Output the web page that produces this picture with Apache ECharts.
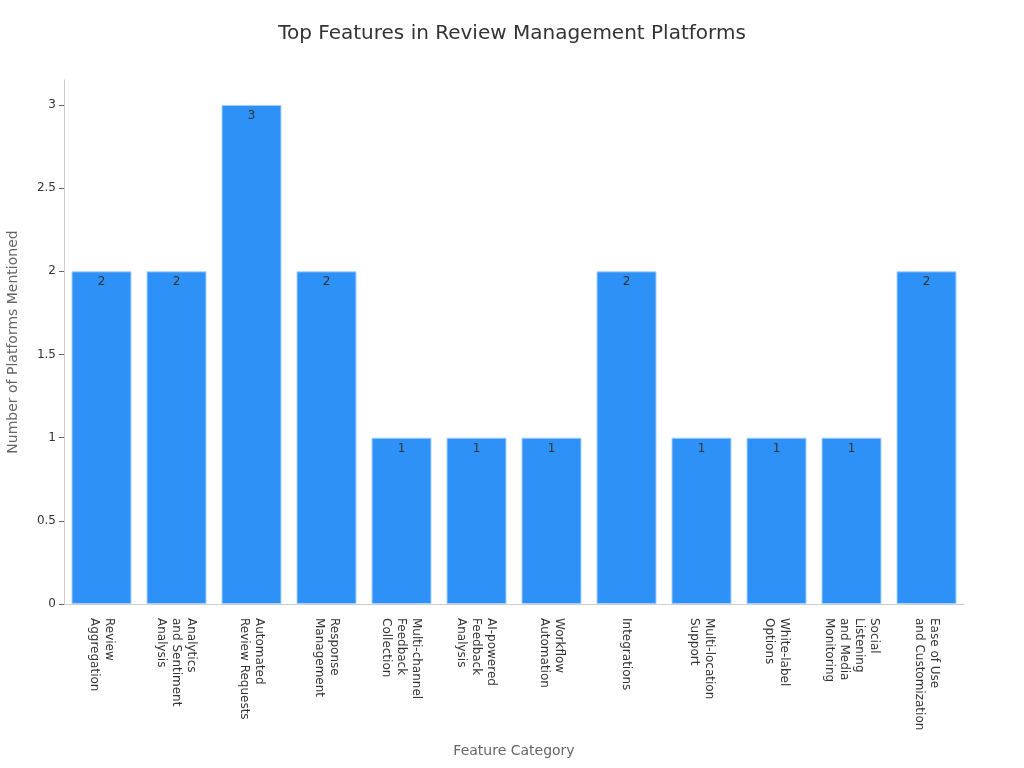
<!DOCTYPE html>
<html><head><meta charset="utf-8">
<script src="https://cdn.jsdelivr.net/npm/echarts@6/dist/echarts.min.js"></script>
<style>html,body{margin:0;padding:0;background:#fff}#c{width:1024px;height:768px}</style>
</head><body><div id="c"></div>
<script>
const categories = [
  "Review\nAggregation",
  "Analytics\nand Sentiment\nAnalysis",
  "Automated\nReview Requests",
  "Response\nManagement",
  "Multi-channel\nFeedback\nCollection",
  "AI-powered\nFeedback\nAnalysis",
  "Workflow\nAutomation",
  "Integrations",
  "Multi-location\nSupport",
  "White-label\nOptions",
  "Social\nListening\nand Media\nMonitoring",
  "Ease of Use\nand Customization"
];
const values = [2, 2, 3, 2, 1, 1, 1, 2, 1, 1, 1, 2];
const yTicks = [0, 0.5, 1, 1.5, 2, 2.5, 3];

const chart = echarts.init(document.getElementById('c'));
chart.setOption({
  textStyle: { fontFamily: 'DejaVu Sans' },
  title: {
    text: 'Top Features in Review Management Platforms',
    left: 'center', top: 19,
    textStyle: { fontFamily: 'DejaVu Sans', fontSize: 20, fontWeight: 'normal', color: '#333' }
  },
  grid: { left: 64, right: 60, top: 80, bottom: 164, containLabel: false, outerBoundsMode: 'none' },
  xAxis: {
    type: 'category',
    data: categories,
    name: 'Feature Category',
    nameLocation: 'middle',
    nameGap: 140,
    nameTextStyle: { fontSize: 14, color: '#666' },
    axisLine: { lineStyle: { color: '#ccc' } },
    axisTick: { alignWithLabel: true, lineStyle: { color: '#666' } },
    axisLabel: { rotate: -90, interval: 0, fontSize: 12, color: '#333', lineHeight: 15, margin: 14 }
  },
  yAxis: {
    type: 'value',
    min: 0, max: 3.15, interval: 0.5,
    name: 'Number of Platforms Mentioned',
    nameLocation: 'middle',
    nameGap: 44,
    nameTextStyle: { fontSize: 14, color: '#666' },
    axisLine: { show: true, lineStyle: { color: '#ccc' } },
    axisTick: { show: true, customValues: yTicks, lineStyle: { color: '#666' } },
    axisLabel: { customValues: yTicks, fontSize: 12, color: '#333' },
    splitLine: { show: false }
  },
  series: [{
    type: 'bar',
    data: values,
    barCategoryGap: '20%',
    itemStyle: { color: '#2d91f7', borderColor: '#a8d2fb', borderWidth: 1 },
    label: { show: true, position: 'insideTop', color: '#333', fontSize: 12, distance: 5 }
  }]
});
</script></body></html>
